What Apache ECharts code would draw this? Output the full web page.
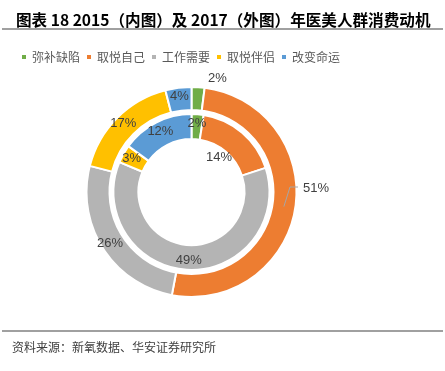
<!DOCTYPE html>
<html><head><meta charset="utf-8">
<script src="https://cdn.jsdelivr.net/npm/echarts@6/dist/echarts.min.js"></script>
<style>html,body{margin:0;padding:0;background:#fff}#c{width:445px;height:371px}</style>
</head><body><div id="c"></div>
<script>
const categories = ['弥补缺陷','取悦自己','工作需要','取悦伴侣','改变命运'];
const values2015 = [2, 14, 49, 3, 12];
const values2017 = [2, 51, 26, 17, 4];
const colors = ['#70AD47','#ED7D31','#B4B4B4','#FFC000','#5B9BD5'];
const titleText = '图表 18 2015（内图）及 2017（外图）年医美人群消费动机';
const sourceText = '资料来源：新氧数据、华安证券研究所';

const CX = 191.5, CY = 192;
// leader line for the 51% slice, starting at the middle of the outer ring at the slice's mid-angle
const total17 = values2017.reduce((a,b)=>a+b,0);
const midFrac = (values2017[0] + values2017[1]/2) / total17;
const ang = midFrac * 2 * Math.PI;
const rMid = 93.5;
const startPt = [CX + rMid*Math.sin(ang), CY - rMid*Math.cos(ang)];

const chart = echarts.init(document.getElementById('c'), null, {renderer:'canvas'});
const labelStyle = {color:'#404040', fontSize:13, fontFamily:'Liberation Sans, Arial, sans-serif'};
const outerData = categories.map((n,i)=>{
  const d = {name:n, value:values2017[i]};
  if (i===0 || i===1) { d.label = {position:'outside'}; d.labelLine = {show:false}; }
  return d;
});
const innerData = categories.map((n,i)=>({name:n, value:values2015[i]}));
chart.setOption({
  animation:false,
  color: colors,
  title: {text: titleText, left: 11, top: 7, textStyle:{fontSize:15.6, fontWeight:'bold', color:'#000', fontFamily:'Noto Sans CJK SC'}},
  legend: {data: categories, left: 15, top: 46, icon:'rect', itemWidth:6, itemHeight:6, itemGap:5,
    textStyle:{fontSize:12, color:'#595959', fontFamily:'Noto Sans CJK SC'}},
  graphic: [
    {type:'line', shape:{x1:2,y1:29,x2:443,y2:29}, style:{stroke:'#808080', lineWidth:1.5}},
    {type:'line', shape:{x1:2,y1:331,x2:443,y2:331}, style:{stroke:'#808080', lineWidth:1.5}},
    {type:'text', left:12, top:341, style:{text:sourceText, fontSize:12, fill:'#404040', fontFamily:'Noto Sans CJK SC'}},
    {type:'polyline', z:100, shape:{points:[startPt,[290,187],[298,187]]}, style:{stroke:'#A6A6A6', lineWidth:1, fill:null}}
  ],
  series: [
    {type:'pie', name:'2017', center:[CX,CY], radius:[82,105], startAngle:90, clockwise:true,
     itemStyle:{borderColor:'#fff', borderWidth:2},
     label:Object.assign({show:true, position:'inside', formatter:'{c}%'}, labelStyle),
     labelLine:{show:false},
     labelLayout: function(p){
       if (p.dataIndex===1) return {dx:-42, dy:-22};
       if (p.dataIndex===0) return {dx:-26, dy:6};
       return {};
     },
     data: outerData},
    {type:'pie', name:'2015', center:[CX,CY], radius:[53,78], startAngle:90, clockwise:true,
     itemStyle:{borderColor:'#fff', borderWidth:2},
     label:Object.assign({show:true, position:'inside', formatter:'{c}%'}, labelStyle),
     labelLayout: function(p){ if (p.dataIndex===1) return {dx:-17, dy:18}; return {}; },
     data: innerData}
  ]
});
</script></body></html>
